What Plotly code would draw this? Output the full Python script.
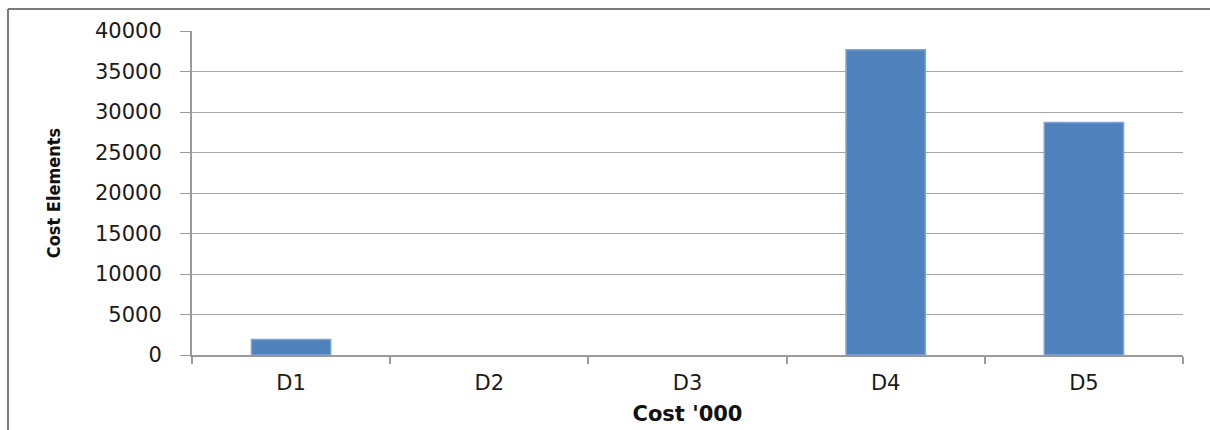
import plotly.graph_objects as go

# Cost per design option, in thousands
categories = ["D1", "D2", "D3", "D4", "D5"]
costs = [1900, 0, 0, 37700, 28700]
y_ticks = [0, 5000, 10000, 15000, 20000, 25000, 30000, 35000, 40000]

W, H = 1210, 430
L, R, T, B = 192, 27, 31, 75
pw = W - L - R
ph = H - T - B

fig = go.Figure(
    go.Bar(
        x=categories,
        y=costs,
        marker=dict(
            color="#4F81BD",
            line=dict(color="#7FA3D2", width=[1.5 if c > 0 else 0 for c in costs]),
        ),
        width=0.4,
    )
)

axis_gray = "#9a9a9a"
label_color = "#1a1a1a"

fig.update_layout(
    width=W,
    height=H,
    margin=dict(l=L, r=R, t=T, b=B),
    paper_bgcolor="white",
    plot_bgcolor="white",
    showlegend=False,
    font=dict(family="DejaVu Sans", color=label_color),
    xaxis=dict(
        type="category",
        automargin=False,
        tickson="boundaries",
        ticks="outside",
        ticklen=7,
        tickcolor=axis_gray,
        tickwidth=2,
        ticklabelstandoff=8,
        showline=True,
        linecolor=axis_gray,
        linewidth=2,
        showgrid=False,
        tickfont=dict(size=21, family="DejaVu Sans", color=label_color),
        title=dict(
            text="Cost '000",
            font=dict(size=21, family="DejaVu Sans", color="#111", weight="bold"),
            standoff=12,
        ),
    ),
    yaxis=dict(
        range=[0, 40000],
        automargin=False,
        tickvals=y_ticks,
        ticktext=[str(v) for v in y_ticks],
        ticks="outside",
        ticklen=10,
        tickcolor=axis_gray,
        tickwidth=1,
        ticklabelstandoff=14,
        showline=True,
        linecolor=axis_gray,
        linewidth=2,
        showgrid=True,
        gridcolor="#a6a6a6",
        gridwidth=1,
        zeroline=False,
        tickfont=dict(size=21, family="DejaVu Sans", color=label_color),
        title=dict(
            text="Cost Elements",
            font=dict(size=18, family="Liberation Sans Narrow, DejaVu Sans Condensed, sans-serif",
                      color="#111", weight="bold"),
            standoff=30,
        ),
    ),
)

# Outer frame: left and top edges of the chart border
fx0 = (8 - L) / pw
fy_top = (H - B - 9) / ph
fig.add_shape(type="line", xref="paper", yref="paper",
              x0=fx0, x1=fx0, y0=-(B + 5) / ph, y1=fy_top,
              line=dict(color="#7a7a7a", width=2))
fig.add_shape(type="line", xref="paper", yref="paper",
              x0=fx0, x1=(W - L + 5) / pw, y0=fy_top, y1=fy_top,
              line=dict(color="#7a7a7a", width=2))

fig.write_html("out.html")
